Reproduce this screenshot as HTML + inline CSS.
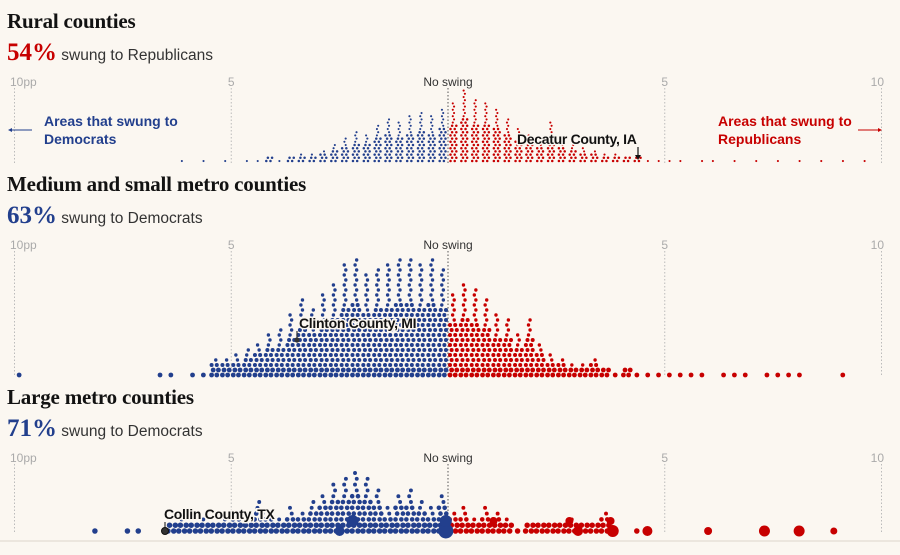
<!DOCTYPE html>
<html><head><meta charset="utf-8"><style>
body{margin:0;background:#fbf7f1;}
#c{position:relative;width:900px;height:555px;overflow:hidden;background:#fbf7f1;font-family:"Liberation Sans",sans-serif;}
</style></head><body>
<div id="c">
<svg id="svg" width="900" height="555" xmlns="http://www.w3.org/2000/svg"></svg>
</div>
<script>
// bin values are dot-row counts per 0.25pp bin, bins from -10pp (index 0) to +10pp (index 79)
const panelTitles = ["Rural counties", "Medium and small metro counties", "Large metro counties"];
const panelPcts = ["54%", "63%", "71%"];
const panelSubs = ["swung to Republicans", "swung to Democrats", "swung to Democrats"];
const tickValues = [-10, -5, 0, 5, 10];
const tickLabels = ["10pp", "5", "No swing", "5", "10"];
const ruralRows = {15:1,17:1,19:1,21:1,22:1,23:2,24:1,25:2,26:3,27:3,28:4,29:6,30:8,31:10,32:9,33:12,34:14,35:13,36:15,37:16,38:15,39:17,40:19,41:23,42:20,43:19,44:17,45:14,46:11,47:9,48:8,49:13,50:7,51:6,52:5,53:4,54:3,55:3,56:2,57:2,58:1,59:1,60:1,61:1,63:1,64:1,66:1,68:1,70:1,72:1,74:1,76:1,78:1};
const mediumRows = {0:1,13:1,14:1,16:1,17:1,18:4,19:4,20:5,21:6,22:7,23:9,24:10,25:13,26:16,27:14,28:17,29:19,30:23,31:24,32:21,33:22,34:23,35:24,36:24,37:23,38:24,39:22,40:17,41:19,42:18,43:16,44:13,45:12,46:9,47:12,48:7,49:5,50:4,51:3,52:3,53:4,54:2,55:1,56:2,57:1,58:1,59:1,60:1,61:1,62:1,63:1,65:1,66:1,67:1,69:1,70:1,71:1,72:1,76:1};
const largeRows = {7:1,10:1,11:1,14:2,15:3,16:2,17:3,18:2,19:3,20:4,21:3,22:6,23:4,24:3,25:5,26:4,27:6,28:7,29:9,30:10,31:11,32:10,33:8,34:5,35:7,36:8,37:6,38:5,39:7,40:4,41:5,42:3,43:5,44:4,45:3,46:1,47:2,48:2,49:2,50:2,51:3,52:2,53:2,54:4,55:1,57:1};
// big counties in large metro panel: swing (pp, +R / -D) and size
const largeBigSwing = [3.8, 4.6, 6.0, 7.3, 8.1, 8.9, 3.0, 2.8, 3.75, -0.05, -0.05, -2.2, -2.5, 1.05];
const largeBigSize  = [6, 5, 4, 5.5, 5.5, 3.5, 5, 4, 4, 7.5, 6, 6, 5, 4];
const largeBigLift  = [0, 0, 0, 0, 0, 0, 0, 1, 1, 0, 1, 1, 0, 1];

const NS="http://www.w3.org/2000/svg";
const svg=document.getElementById('svg');
const BLUE="#223f8d", RED="#c70000";
function x(v){return 448+v*43.35;}
function binCenter(i){return -10+0.25*i+0.125;}
function mk(tag,attrs,parent){const e=document.createElementNS(NS,tag);for(const k in attrs)e.setAttribute(k,attrs[k]);(parent||svg).appendChild(e);return e;}
function txt(s,attrs,parent){const e=mk('text',attrs,parent);e.textContent=s;return e;}

const offsets=[0,163,376];
const baselines=[161,375,531];
const specs=[{rows:ruralRows,n:2,step:3.2,r:1.25,dx:4.2},{rows:mediumRows,n:2,step:5,r:2.0,dx:5.2},{rows:largeRows,n:2,step:5.8,r:2.3,dx:5.8}];

panelTitles.forEach((t,p)=>{
  const g=mk('g',{});
  
  
  const o=offsets[p];
  const tt=txt(t,{x:7,y:28+o,'font-family':'"Liberation Serif",serif','font-weight':'bold','font-size':'21','fill':'#121212','letter-spacing':'-0.2'},g);
  
  
  const pc=txt('',{x:7,y:60+o},g);
  
  
  const s1=document.createElementNS(NS,'tspan');s1.textContent=panelPcts[p];
  s1.setAttribute('font-family','"Liberation Serif",serif');s1.setAttribute('font-weight','bold');s1.setAttribute('font-size','25');s1.setAttribute('fill',p==0?RED:BLUE);
  pc.appendChild(s1);
  const s2=document.createElementNS(NS,'tspan');s2.textContent=' '+panelSubs[p];
  s2.setAttribute('font-family','"Liberation Sans",sans-serif');s2.setAttribute('font-size','15.5');s2.setAttribute('fill','#333');
  pc.appendChild(s2);
  tickValues.forEach((v,k)=>{
    const l=mk('line',{x1:x(v),x2:x(v),y1:88+o,y2:baselines[p]+2,stroke:v==0?'#555':'#bbb','stroke-width':1,'stroke-dasharray':'1.5,2'},g);
    
    
    const anchor=v==-10?'start':(v==10?'end':'middle');
    const tl=txt(tickLabels[k],{x:v==-10?10:(v==10?884:x(v)),y:86+o,'font-size':'12','fill':v==0?'#333':'#aaa','text-anchor':anchor},g);
    
    
  });
  const sp=specs[p];
  for(const key in sp.rows){
    const i=+key, nr=sp.rows[key], v=binCenter(i), cx=x(v);
    const col=v<0?BLUE:RED;
    for(let r=0;r<nr;r++){
      const single = nr<=1 || r>=Math.ceil(nr*0.6);
      const n = single?1:sp.n;
      for(let k=0;k<n;k++){
        const dx = single ? ((r%2)?1:-1)*sp.dx*0.15 : (k-0.5)*sp.dx + ((r%2)?1:-1)*0.8;
        const rr=(p>0 && r<2)?sp.r*1.2:sp.r*(single?0.85:1);
        const c=mk('circle',{cx:cx+dx,cy:baselines[p]-r*sp.step,r:rr,fill:col},g);
        
        
      }
    }
  }
});
// large metro big bubbles
largeBigSwing.forEach((v,k)=>{
  const r=largeBigSize[k];
  const c=mk('circle',{cx:x(v),cy:531-largeBigLift[k]*10,r:r,fill:v<0?BLUE:RED});
  
  
});
// direction annotations
const a1=txt('Areas that swung to',{x:44,y:126,'font-size':'14','font-weight':'bold',fill:BLUE});

txt('Democrats',{x:44,y:144,'font-size':'14','font-weight':'bold',fill:BLUE});
mk('line',{x1:9,x2:32,y1:130,y2:130,stroke:BLUE,'stroke-width':1});
mk('path',{d:'M8,130 L12,128 L12,132 Z',fill:BLUE});
const a2=txt('Areas that swung to',{x:718,y:126,'font-size':'14','font-weight':'bold',fill:RED});

txt('Republicans',{x:718,y:144,'font-size':'14','font-weight':'bold',fill:RED});
mk('line',{x1:858,x2:880,y1:130,y2:130,stroke:RED,'stroke-width':1});
mk('path',{d:'M882,130 L878,128 L878,132 Z',fill:RED});
// county annotations
function ann(s,xx,yy,name){
  const t=txt(s,{x:xx,y:yy,'font-size':'14','font-weight':'bold',fill:'#121212',stroke:'#fbf7f1','stroke-width':3,'paint-order':'stroke','letter-spacing':'-0.3'});
  
}
ann('Decatur County, IA',517,144,'decatur-county-label');
mk('line',{x1:638,x2:638,y1:147,y2:158,stroke:'#121212','stroke-width':1.2});
mk('path',{d:'M635,155 L641,155 L638,160 Z',fill:'#121212'});
ann('Clinton County, MI',299,328,'clinton-county-label');
mk('line',{x1:297,x2:297,y1:331,y2:340,stroke:'#333','stroke-width':1.2});
mk('circle',{cx:297,cy:340,r:2.6,fill:'#333'});
ann('Collin County, TX',164,519,'collin-county-label');
mk('line',{x1:165,x2:165,y1:522,y2:528,stroke:'#333','stroke-width':1.2});
mk('circle',{cx:165,cy:531,r:3.5,fill:'#333',stroke:'#111','stroke-width':1});
mk('line',{x1:0,x2:900,y1:541,y2:541,stroke:'#ece6de','stroke-width':2});
</script>
</body></html>
